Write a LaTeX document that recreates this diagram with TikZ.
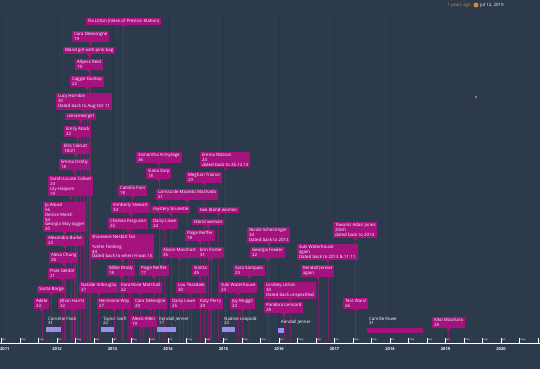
\documentclass[tikz,border=0pt]{standalone}
\usepackage{fontspec}
\setmainfont{Open Sans}
\pgfdeclarelayer{bg}
\pgfdeclarelayer{lines}
\pgfsetlayers{bg,lines,main}
\definecolor{bgc}{HTML}{2C3A4C}
\definecolor{evc}{HTML}{A3127D}
\definecolor{linec}{HTML}{8E1A72}
\definecolor{barc}{HTML}{9D8CF2}
\definecolor{orng}{HTML}{E0893A}
\definecolor{gridc}{HTML}{27344A}
\tikzset{
  ev/.style={fill=evc, text=white, font=\fontsize{4.4}{4.8}\selectfont, align=left,
    inner xsep=1.8pt, inner ysep=1.2pt, anchor=north west},
  evline/.style={draw=linec, line width=0.45pt, opacity=0.75},
  spantxt/.style={text=white, font=\fontsize{4.4}{4.8}\selectfont, align=left,
    inner sep=0pt, anchor=north west},
  yr/.style={text=white, font=\fontsize{4}{4}\selectfont\bfseries},
  mon/.style={text=white, font=\fontsize{2.6}{2.6}\selectfont, inner sep=0pt, anchor=west},
  tickmark/.style={draw=white, line width=0.4pt}
}
\newcommand\evt[4]{%
  \node[ev] (#1) at (#2,#3) {#4};
  \fill[evc] ([xshift=-2.2pt]#1.south) -- ([yshift=-3pt]#1.south) -- ([xshift=2.2pt]#1.south) -- cycle;
  \begin{pgfonlayer}{lines}\draw[evline] (#1.south) -- (#1.south |- axis);\end{pgfonlayer}}
\newcommand\spn[3]{%
  \node[spantxt] (#1) at (#2,316.5) {#3};}
\begin{document}
\begin{tikzpicture}[x=1pt,y=-1pt]
\useasboundingbox (0,0) rectangle (540,369);
\begin{pgfonlayer}{bg}
  \fill[bgc] (0,0) rectangle (540,369);
  \foreach \i in {0,...,9}{\draw[gridc, line width=0.5pt] ({1.5+55.5*\i},12) -- ({1.5+55.5*\i},342);}
  \draw[gridc, line width=0.8pt, dashed] (474,12) -- (474,342);
\end{pgfonlayer}
\coordinate (axis) at (0,341);

% top right
\node[text=orng, font=\fontsize{4.4}{4.4}\selectfont, anchor=east, inner sep=0pt] (ago) at (471,5) {1 years ago};
\fill[orng] (476,5) circle (2.4pt);
\node[text=white, font=\fontsize{4.4}{4.4}\selectfont, anchor=west, inner sep=0pt] (date) at (480,5) {jul 12, 2019};
\fill[orng] (476,97) circle (1.1pt);

% events
\evt{fia}{86}{18}{Fia Litton (niece of Preston Mahon)}
\evt{caraA}{72}{31}{Cara Delevingne\\19}
\evt{blondpink}{63}{47}{Blond girl with pink bag}
\evt{allyess}{75}{59}{Allyess Reid\\19}
\evt{caggie}{70}{76}{Caggie Dunlop\\22}
\evt{lucy}{56}{93}{Lucy Hornbin\\30\\Dated back to Aug-Oct 11}
\evt{unnamed}{65}{113}{unnamed girl}
\evt{emily}{64}{126}{Emily Atack\\22}
\evt{ellis}{62}{143}{Ellis Calcutt\\18/21}
\evt{ostilly}{59}{159}{Emma Ostilly\\18}
\evt{sarah}{48}{176}{Sarah-Louise Collvet\\24\\Lily Halpern\\19}
\evt{jo}{43}{202}{Jo Wood\\56\\Denise Welch\\54\\Georgia May Jagger\\20}
\evt{alexandra}{46}{235}{Alexandra Burke\\23}
\evt{alexa}{49}{252}{Alexa Chung\\26}
\evt{pixie}{48}{268}{Pixie Geldof\\21}
\evt{santa}{37}{286}{Santa Borge}
\evt{adele}{34}{298}{Adele\\23}
\evt{jillian}{58}{298}{Jillian Harris\\32}
\evt{samantha}{136}{152}{Samantha Armytage\\36}
\evt{siana}{146}{168}{Siana Earp\\18}
\evt{watson}{200}{152}{Emma Watson\\24\\dated back to 26.12.14}
\evt{meghan}{186}{172}{Meghan Trainor\\20}
\evt{camilla}{118}{185}{Camilla Foss\\18}
\evt{larissa}{156}{189}{Larissa de Macedo Machado\\21}
\evt{kimberly}{111}{202}{Kimberly Stewart\\33}
\evt{mystery}{151}{206}{mystery brunette}
\evt{twoblond}{198}{207}{two blond woman}
\evt{chelsea}{108}{218}{Chelsea Ferguson\\25}
\evt{daisyA}{151}{218}{Daisy Lowe\\24}
\evt{blondwoman}{192}{219}{blond woman}
\evt{paigeA}{185}{230}{Paige Reiffer\\18}
\evt{nicole}{247}{227}{Nicole Scherzinger\\34\\Dated back to 2013}
\evt{towanis}{333}{222}{Towanis Adair jones\\20ish\\dated back to 2014}
\evt{shaneece}{90}{234}{Shaneece Nesbitt fan\\[4.8pt]Yvette Fielding\\44\\Dated back to when H was 16}
\evt{alison}{161}{247}{Alison Mosshart\\35}
\evt{erin}{198}{247}{Erin Foster\\31}
\evt{georgia}{250}{247}{Georgia Fowler\\22}
\evt{sukiB}{297}{244}{Suki Waterhouse\\again\\Dated back to 2013 \& 11.11.}
\evt{millie}{107}{265}{Millie Brady\\18}
\evt{paigeB}{139}{265}{Paige Reiffer\\17}
\evt{sinitta}{192}{265}{Sinitta\\45}
\evt{sara}{233}{265}{Sara Sampaio\\23}
\evt{kendallB}{301}{265}{Kendall Jenner\\again}
\evt{natalie}{79}{282}{Natalie Imbruglia\\37}
\evt{kara}{119}{282}{Kara Rose Marshall\\22}
\evt{lou}{176}{282}{Lou Teasdale\\30}
\evt{sukiA}{219}{282}{Suki Waterhouse\\23}
\evt{lindsey}{264}{282}{Lindsey Lohan\\30\\Dated back unspecified}
\evt{hermione}{97}{298}{Hermione Way\\27}
\evt{caraB}{133}{298}{Cara Delevigne\\20}
\evt{daisyB}{170}{298}{Daisy Lowe\\25}
\evt{katy}{198}{298}{Katy Perry\\29}
\evt{joy}{230}{298}{Joy Muggli\\23}
\evt{pandora}{264}{302}{Pandora Lennard\\28}
\evt{tess}{343}{298}{Tess Ward\\26}
\evt{alexis}{130}{316}{Alexis Allen\\19}
\evt{kiko}{432}{317}{Kiko Mizuhara\\28}

% spans
\spn{caroline}{48}{Caroline Flack\\31}
\fill[barc] (46,327) rectangle (61,332);
\spn{taylor}{103}{Taylor Swift\\22}
\fill[barc] (101,327) rectangle (114,332);
\spn{kendallA}{159}{Kendall Jenner\\17}
\fill[barc] (157,327) rectangle (176,332);
\spn{nadine}{224}{Nadine Leopold\\20}
\fill[barc] (222,327) rectangle (235,332);
\node[spantxt] (kendallC) at (281,319.5) {Kendall Jenner};
\fill[barc] (278,328) rectangle (284,333);
\spn{camille}{369}{Camille Rowe\\31}
\fill[evc] (367,328) rectangle (423,333);

% axis
\draw[white, line width=1.3pt] (0,343.7) -- (540,343.7);
\node[yr, anchor=west, inner sep=0pt] (yr0) at (0,348.7) {2011};
\foreach \i in {1,...,9}{
  \pgfmathsetmacro\xx{1.5+55.5*\i}
  \pgfmathtruncatemacro\yy{2011+\i}
  \node[yr] (yr\i) at (\xx,348.7) {\yy};
}
\foreach \i in {0,...,9}{
  \pgfmathsetmacro\xx{1.5+55.5*\i}
  \foreach \m/\lab in {0/jan,4/may,8/sep}{
    \pgfmathsetmacro\xm{\xx+55.5*\m/12}
    \draw[tickmark] (\xm,343) -- (\xm,338.3);
    \ifdim\xm pt<532pt \node[mon] (m\i\m) at (\xm+0.6,340.2) {\lab};\fi
  }
}
\end{tikzpicture}
\end{document}
